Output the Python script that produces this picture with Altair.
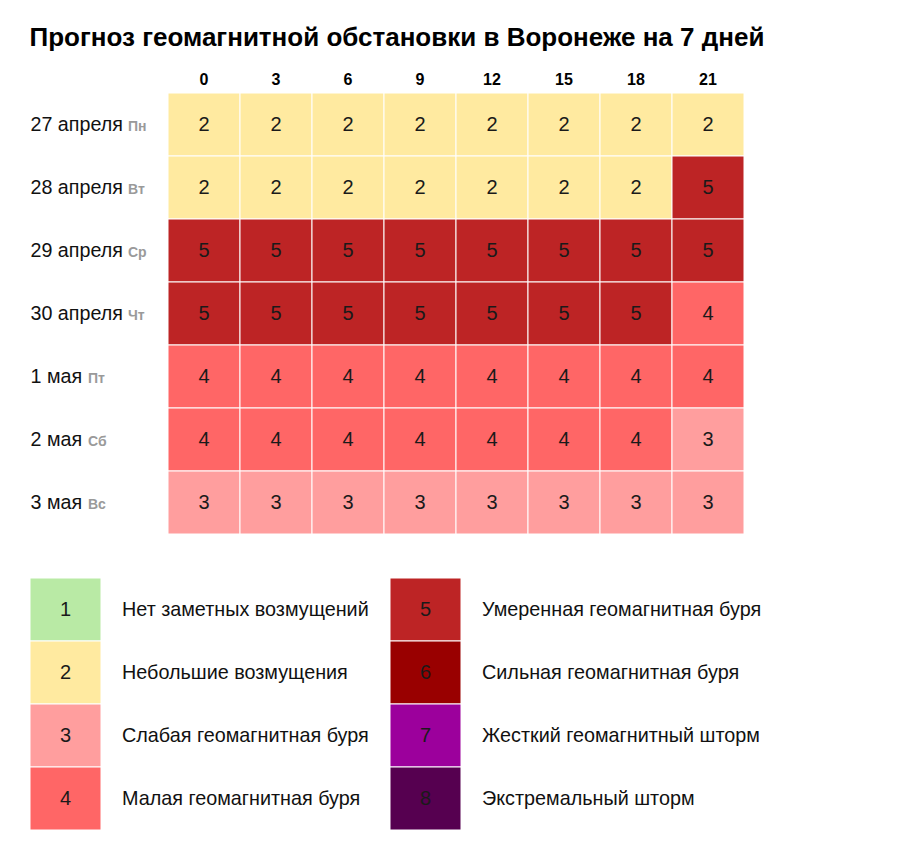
import altair as alt
import pandas as pd

title_text = "Прогноз геомагнитной обстановки в Воронеже на 7 дней"
dates = ["27 апреля", "28 апреля", "29 апреля", "30 апреля", "1 мая", "2 мая", "3 мая"]
weekdays = ["Пн", "Вт", "Ср", "Чт", "Пт", "Сб", "Вс"]
hours = ["0", "3", "6", "9", "12", "15", "18", "21"]
kp_27 = [2, 2, 2, 2, 2, 2, 2, 2]
kp_28 = [2, 2, 2, 2, 2, 2, 2, 5]
kp_29 = [5, 5, 5, 5, 5, 5, 5, 5]
kp_30 = [5, 5, 5, 5, 5, 5, 5, 4]
kp_01 = [4, 4, 4, 4, 4, 4, 4, 4]
kp_02 = [4, 4, 4, 4, 4, 4, 4, 3]
kp_03 = [3, 3, 3, 3, 3, 3, 3, 3]
levels = [1, 2, 3, 4, 5, 6, 7, 8]
level_names = [
    "Нет заметных возмущений",
    "Небольшие возмущения",
    "Слабая геомагнитная буря",
    "Малая геомагнитная буря",
    "Умеренная геомагнитная буря",
    "Сильная геомагнитная буря",
    "Жесткий геомагнитный шторм",
    "Экстремальный шторм",
]
level_colors = ["#b9eaa5", "#ffeaa0", "#ff9e9e", "#ff6666",
                "#bd2425", "#990000", "#9c009c", "#560050"]

rows = [kp_27, kp_28, kp_29, kp_30, kp_01, kp_02, kp_03]
grid = pd.DataFrame([
    {"date": d, "wd": w, "hour": h, "level": v}
    for d, w, r in zip(dates, weekdays, rows)
    for h, v in zip(hours, r)
])
daydf = pd.DataFrame({"date": dates, "wd": weekdays})

color = alt.Color("level:O", scale=alt.Scale(domain=levels, range=level_colors), legend=None)

xh = alt.X("hour:O", sort=hours, scale=alt.Scale(paddingInner=0, paddingOuter=0),
           axis=alt.Axis(orient="top", title=None, labelAngle=0, labelFontSize=16,
                         labelFontWeight="bold", labelColor="#000", ticks=False,
                         domain=False, labelPadding=6))
yd = alt.Y("date:O", sort=dates, scale=alt.Scale(paddingInner=0, paddingOuter=0),
           axis=alt.Axis(title=None, labelAlign="left", labelPadding=138, labelFontSize=19.7,
                         ticks=False, domain=False, labelColor="#111",
                         labelBaseline="alphabetic", labelOffset=6))

cells = alt.Chart(grid).mark_rect(stroke="white", strokeWidth=1).encode(x=xh, y=yd, color=color)
nums = alt.Chart(grid).mark_text(fontSize=20, color="#1a1a1a").encode(x=xh, y=yd, text="level:O")
wd_style = dict(align="left", baseline="alphabetic", dy=6, fontSize=14,
                fontWeight="bold", color="#9a9a9a")
wd_apr = alt.Chart(daydf).transform_filter("indexof(datum.date, 'апреля') >= 0").mark_text(
    **wd_style).encode(x=alt.value(-40), y=alt.Y("date:O", sort=dates), text="wd:N")
wd_may = alt.Chart(daydf).transform_filter("indexof(datum.date, 'мая') >= 0").mark_text(
    **wd_style).encode(x=alt.value(-80), y=alt.Y("date:O", sort=dates), text="wd:N")

heat = alt.layer(cells, nums, wd_apr, wd_may).properties(width=576, height=441)

leg = pd.DataFrame({
    "level": levels,
    "name": level_names,
    "col": [(l - 1) // 4 for l in levels],
    "row": [(l - 1) % 4 for l in levels],
})
# legend block starts under the row labels, left of the heatmap plot area
lscale = alt.Scale(paddingInner=1 - 71 / 360, paddingOuter=0, range=[-138, 293])
lx = alt.X("col:O", scale=lscale, axis=None)
ly = alt.Y("row:O", scale=alt.Scale(paddingInner=0, paddingOuter=0), axis=None)
lrect = alt.Chart(leg).mark_rect(stroke="white", strokeWidth=1).encode(x=lx, y=ly, color=color)
lnum = alt.Chart(leg).mark_text(fontSize=20, color="#1a1a1a").encode(x=lx, y=ly, text="level:O")
llab = alt.Chart(leg).mark_text(align="left", dx=92, fontSize=19.8, color="#111").encode(
    x=alt.X("col:O", bandPosition=0, scale=lscale, axis=None), y=ly, text="name:N")
legend = alt.layer(lrect, lnum, llab).properties(width=431, height=252)

chart = alt.vconcat(heat, legend, spacing=42).properties(
    title=alt.Title(title_text, anchor="start", fontSize=26, fontWeight="bold",
                    color="#000", offset=20),
    padding={"left": 21, "top": 17, "right": 10, "bottom": 5},
).configure(font="Liberation Sans").configure_view(stroke=None)

chart.save("out.html", embed_options={"renderer": "svg", "actions": False})
